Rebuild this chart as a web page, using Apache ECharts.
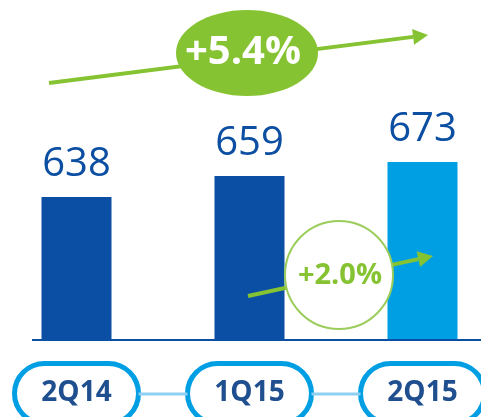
<!DOCTYPE html>
<html>
<head>
<meta charset="utf-8">
<script src="https://cdn.jsdelivr.net/npm/echarts@6/dist/echarts.min.js"></script>
<style>
  html, body { margin: 0; padding: 0; background: #fff; }
  #chart { width: 481px; height: 417px; }
</style>
</head>
<body>
<div id="chart"></div>
<script>
const categories = ['2Q14', '1Q15', '2Q15'];
const values = [638, 659, 673];
const barColors = ['#0a4fa3', '#0a4fa3', '#009fe3'];
const growthLabels = ['+5.4%', '+2.0%'];

const green = '#86c332';
const font = 'Open Sans';

const chart = echarts.init(document.getElementById('chart'));

chart.setOption({
    animation: false,
    grid: { left: -10, top: 40, width: 519, height: 300, containLabel: false, outerBoundsMode: 'none' },
    xAxis: {
        type: 'category',
        data: categories,
        axisLine: { show: false },
        axisTick: { show: false },
        axisLabel: {
            margin: 26,
            fontFamily: font,
            fontSize: 28,
            fontWeight: 'bold',
            color: '#1f4f8f',
            backgroundColor: '#fff',
            borderColor: '#009fe3',
            borderWidth: 5,
            borderRadius: 28,
            width: 119,
            height: 55,
            lineHeight: 55,
            align: 'center',
            verticalAlign: 'top'
        }
    },
    yAxis: {
        type: 'value',
        min: 495,
        max: 795,
        show: false
    },
    series: [{
        type: 'bar',
        barWidth: 70,
        data: values.map((v, i) => ({ value: v, itemStyle: { color: barColors[i] } })),
        label: {
            show: true,
            position: 'top',
            distance: 12,
            fontFamily: font,
            fontSize: 40,
            color: '#0b4ea2'
        }
    }]
});

// arrow helper: shaft + head
function arrow(x1, y1, x2, y2, width, headLen, headHalf) {
    const dx = x2 - x1, dy = y2 - y1;
    const len = Math.sqrt(dx * dx + dy * dy);
    const ux = dx / len, uy = dy / len;
    const bx = x2 - ux * headLen, by = y2 - uy * headLen;
    return [
        { type: 'line', z: 10, shape: { x1: x1, y1: y1, x2: bx, y2: by },
          style: { stroke: green, lineWidth: width } },
        { type: 'polygon', z: 10,
          shape: { points: [[x2, y2], [bx - uy * headHalf, by + ux * headHalf], [bx + uy * headHalf, by - ux * headHalf]] },
          style: { fill: green } }
    ];
}

// connector lines between the category pills
const centers = categories.map((c, i) => chart.convertToPixel({ xAxisIndex: 0 }, i));
const connectors = [];
for (let i = 0; i < centers.length - 1; i++) {
    connectors.push({
        type: 'line', z: 1,
        shape: { x1: centers[i] + 62, y1: 394, x2: centers[i + 1] - 62, y2: 394 },
        style: { stroke: '#8dd0f2', lineWidth: 3 }
    });
}

chart.setOption({
    graphic: [
        { type: 'line', z: 5, shape: { x1: 32, y1: 340, x2: 481, y2: 340 },
          style: { stroke: '#0a4fa3', lineWidth: 2 } },
        ...connectors,
        ...arrow(49, 83, 428, 35, 4, 15, 8),
        { type: 'ellipse', z: 11, shape: { cx: 247, cy: 53, rx: 71, ry: 43 },
          style: { fill: green } },
        { type: 'text', z: 12, x: 243, y: 53,
          style: { text: growthLabels[0], fill: '#fff', font: 'bold 40px "Open Sans"',
                   align: 'center', verticalAlign: 'middle' } },
        ...arrow(248, 296, 433, 256, 4, 15, 8),
        { type: 'circle', z: 11, shape: { cx: 339, cy: 275, r: 54 },
          style: { fill: '#fff', stroke: '#9acd5a', lineWidth: 2 } },
        { type: 'text', z: 12, x: 340, y: 276,
          style: { text: growthLabels[1], fill: green, font: 'bold 29px "Open Sans"',
                   align: 'center', verticalAlign: 'middle' } }
    ]
});
</script>
</body>
</html>
